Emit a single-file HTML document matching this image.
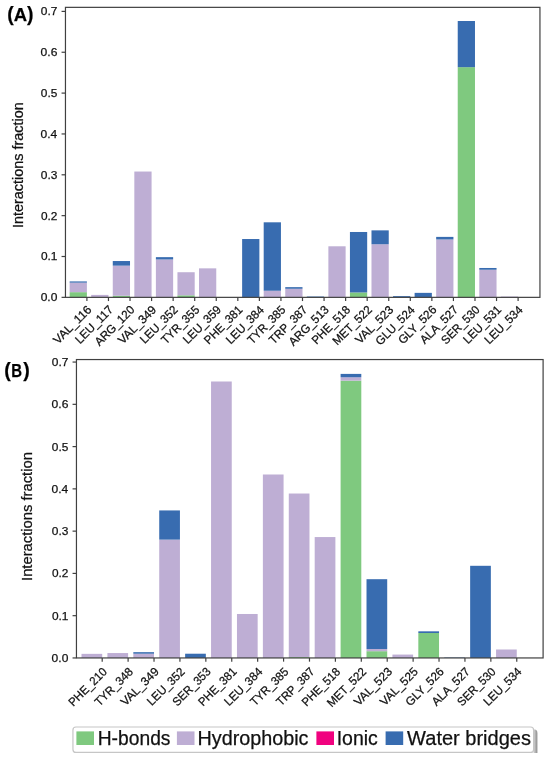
<!DOCTYPE html>
<html><head><meta charset="utf-8"><style>
html,body{margin:0;padding:0;background:#fff;}
svg{display:block;font-family:"Liberation Sans", sans-serif;}
#w{width:550px;height:760px;overflow:hidden;will-change:transform;}
text{stroke:#111111;stroke-width:0.25px;}
</style></head><body>
<div id="w"><svg width="550" height="760" viewBox="0 0 550 760">
<rect width="550" height="760" fill="#fff"/>
<rect x="69.65" y="292.16" width="17.25" height="5.19" fill="#7fc97f"/>
<rect x="69.65" y="282.64" width="17.25" height="9.52" fill="#beaed4"/>
<rect x="69.65" y="281.42" width="17.25" height="1.23" fill="#386cb0"/>
<rect x="91.21" y="294.90" width="17.25" height="2.45" fill="#beaed4"/>
<rect x="112.77" y="295.72" width="17.25" height="1.63" fill="#7fc97f"/>
<rect x="112.77" y="265.65" width="17.25" height="30.07" fill="#beaed4"/>
<rect x="112.77" y="261.03" width="17.25" height="4.62" fill="#386cb0"/>
<rect x="134.33" y="171.53" width="17.25" height="125.82" fill="#beaed4"/>
<rect x="155.89" y="259.44" width="17.25" height="37.91" fill="#beaed4"/>
<rect x="155.89" y="257.15" width="17.25" height="2.29" fill="#386cb0"/>
<rect x="177.45" y="295.31" width="17.25" height="2.04" fill="#7fc97f"/>
<rect x="177.45" y="272.23" width="17.25" height="23.08" fill="#beaed4"/>
<rect x="199.01" y="268.35" width="17.25" height="29.00" fill="#beaed4"/>
<rect x="242.13" y="239.02" width="17.25" height="58.33" fill="#386cb0"/>
<rect x="263.69" y="290.73" width="17.25" height="6.62" fill="#beaed4"/>
<rect x="263.69" y="222.31" width="17.25" height="68.42" fill="#386cb0"/>
<rect x="285.25" y="288.77" width="17.25" height="8.58" fill="#beaed4"/>
<rect x="285.25" y="287.14" width="17.25" height="1.63" fill="#386cb0"/>
<rect x="306.81" y="296.53" width="17.25" height="0.82" fill="#386cb0"/>
<rect x="328.37" y="246.29" width="17.25" height="51.06" fill="#beaed4"/>
<rect x="349.93" y="292.45" width="17.25" height="4.90" fill="#7fc97f"/>
<rect x="349.93" y="231.99" width="17.25" height="60.46" fill="#386cb0"/>
<rect x="371.49" y="244.25" width="17.25" height="53.11" fill="#beaed4"/>
<rect x="371.49" y="230.36" width="17.25" height="13.89" fill="#386cb0"/>
<rect x="393.05" y="296.12" width="17.25" height="1.23" fill="#386cb0"/>
<rect x="414.61" y="292.86" width="17.25" height="4.49" fill="#386cb0"/>
<rect x="436.17" y="239.47" width="17.25" height="57.88" fill="#beaed4"/>
<rect x="436.17" y="236.89" width="17.25" height="2.57" fill="#386cb0"/>
<rect x="457.73" y="67.16" width="17.25" height="230.19" fill="#7fc97f"/>
<rect x="457.73" y="21.00" width="17.25" height="46.16" fill="#386cb0"/>
<rect x="479.29" y="269.74" width="17.25" height="27.61" fill="#beaed4"/>
<rect x="479.29" y="267.98" width="17.25" height="1.76" fill="#386cb0"/>
<rect x="500.85" y="296.53" width="17.25" height="0.82" fill="#beaed4"/>
<rect x="65.46" y="7.35" width="474.49" height="290.00" fill="none" stroke="#404040" stroke-width="1.2"/>
<line x1="61.56" y1="297.35" x2="65.46" y2="297.35" stroke="#404040" stroke-width="1.2"/>
<text x="57.33" y="301.29" text-anchor="end" font-size="11.45" textLength="16.68" lengthAdjust="spacingAndGlyphs" fill="#111111">0.0</text>
<line x1="61.56" y1="256.50" x2="65.46" y2="256.50" stroke="#404040" stroke-width="1.2"/>
<text x="57.44" y="260.44" text-anchor="end" font-size="11.45" textLength="16.51" lengthAdjust="spacingAndGlyphs" fill="#111111">0.1</text>
<line x1="61.56" y1="215.65" x2="65.46" y2="215.65" stroke="#404040" stroke-width="1.2"/>
<text x="57.45" y="219.59" text-anchor="end" font-size="11.45" textLength="16.44" lengthAdjust="spacingAndGlyphs" fill="#111111">0.2</text>
<line x1="61.56" y1="174.80" x2="65.46" y2="174.80" stroke="#404040" stroke-width="1.2"/>
<text x="57.38" y="178.74" text-anchor="end" font-size="11.45" textLength="16.59" lengthAdjust="spacingAndGlyphs" fill="#111111">0.3</text>
<line x1="61.56" y1="133.95" x2="65.46" y2="133.95" stroke="#404040" stroke-width="1.2"/>
<text x="57.21" y="137.89" text-anchor="end" font-size="11.45" textLength="16.68" lengthAdjust="spacingAndGlyphs" fill="#111111">0.4</text>
<line x1="61.56" y1="93.10" x2="65.46" y2="93.10" stroke="#404040" stroke-width="1.2"/>
<text x="57.36" y="97.04" text-anchor="end" font-size="11.45" textLength="16.48" lengthAdjust="spacingAndGlyphs" fill="#111111">0.5</text>
<line x1="61.56" y1="52.25" x2="65.46" y2="52.25" stroke="#404040" stroke-width="1.2"/>
<text x="57.39" y="56.19" text-anchor="end" font-size="11.45" textLength="16.79" lengthAdjust="spacingAndGlyphs" fill="#111111">0.6</text>
<line x1="61.56" y1="11.40" x2="65.46" y2="11.40" stroke="#404040" stroke-width="1.2"/>
<text x="57.46" y="15.34" text-anchor="end" font-size="11.45" textLength="16.61" lengthAdjust="spacingAndGlyphs" fill="#111111">0.7</text>
<line x1="86.90" y1="297.35" x2="86.90" y2="301.05" stroke="#404040" stroke-width="1.2"/>
<text x="92.52" y="310.85" text-anchor="end" font-size="11.88" textLength="48.45" lengthAdjust="spacingAndGlyphs" fill="#111111" transform="rotate(-45 92.00 310.85)">VAL_116</text>
<line x1="108.46" y1="297.35" x2="108.46" y2="301.05" stroke="#404040" stroke-width="1.2"/>
<text x="114.14" y="310.85" text-anchor="end" font-size="11.88" textLength="48.09" lengthAdjust="spacingAndGlyphs" fill="#111111" transform="rotate(-45 113.56 310.85)">LEU_117</text>
<line x1="130.02" y1="297.35" x2="130.02" y2="301.05" stroke="#404040" stroke-width="1.2"/>
<text x="135.57" y="310.85" text-anchor="end" font-size="11.88" textLength="50.89" lengthAdjust="spacingAndGlyphs" fill="#111111" transform="rotate(-45 135.12 310.85)">ARG_120</text>
<line x1="151.58" y1="297.35" x2="151.58" y2="301.05" stroke="#404040" stroke-width="1.2"/>
<text x="157.24" y="310.85" text-anchor="end" font-size="11.88" textLength="48.41" lengthAdjust="spacingAndGlyphs" fill="#111111" transform="rotate(-45 156.68 310.85)">VAL_349</text>
<line x1="173.14" y1="297.35" x2="173.14" y2="301.05" stroke="#404040" stroke-width="1.2"/>
<text x="178.82" y="310.85" text-anchor="end" font-size="11.88" textLength="47.92" lengthAdjust="spacingAndGlyphs" fill="#111111" transform="rotate(-45 178.24 310.85)">LEU_352</text>
<line x1="194.70" y1="297.35" x2="194.70" y2="301.05" stroke="#404040" stroke-width="1.2"/>
<text x="200.28" y="310.85" text-anchor="end" font-size="11.88" textLength="48.37" lengthAdjust="spacingAndGlyphs" fill="#111111" transform="rotate(-45 199.80 310.85)">TYR_355</text>
<line x1="216.26" y1="297.35" x2="216.26" y2="301.05" stroke="#404040" stroke-width="1.2"/>
<text x="221.91" y="310.85" text-anchor="end" font-size="11.88" textLength="48.23" lengthAdjust="spacingAndGlyphs" fill="#111111" transform="rotate(-45 221.36 310.85)">LEU_359</text>
<line x1="237.82" y1="297.35" x2="237.82" y2="301.05" stroke="#404040" stroke-width="1.2"/>
<text x="243.48" y="310.85" text-anchor="end" font-size="11.88" textLength="48.72" lengthAdjust="spacingAndGlyphs" fill="#111111" transform="rotate(-45 242.92 310.85)">PHE_381</text>
<line x1="259.38" y1="297.35" x2="259.38" y2="301.05" stroke="#404040" stroke-width="1.2"/>
<text x="264.82" y="310.85" text-anchor="end" font-size="11.88" textLength="48.18" lengthAdjust="spacingAndGlyphs" fill="#111111" transform="rotate(-45 264.48 310.85)">LEU_384</text>
<line x1="280.94" y1="297.35" x2="280.94" y2="301.05" stroke="#404040" stroke-width="1.2"/>
<text x="286.52" y="310.85" text-anchor="end" font-size="11.88" textLength="48.37" lengthAdjust="spacingAndGlyphs" fill="#111111" transform="rotate(-45 286.04 310.85)">TYR_385</text>
<line x1="302.50" y1="297.35" x2="302.50" y2="301.05" stroke="#404040" stroke-width="1.2"/>
<text x="308.18" y="310.85" text-anchor="end" font-size="11.88" textLength="48.40" lengthAdjust="spacingAndGlyphs" fill="#111111" transform="rotate(-45 307.60 310.85)">TRP_387</text>
<line x1="324.06" y1="297.35" x2="324.06" y2="301.05" stroke="#404040" stroke-width="1.2"/>
<text x="329.67" y="310.85" text-anchor="end" font-size="11.88" textLength="50.79" lengthAdjust="spacingAndGlyphs" fill="#111111" transform="rotate(-45 329.16 310.85)">ARG_513</text>
<line x1="345.62" y1="297.35" x2="345.62" y2="301.05" stroke="#404040" stroke-width="1.2"/>
<text x="351.22" y="310.85" text-anchor="end" font-size="11.88" textLength="48.93" lengthAdjust="spacingAndGlyphs" fill="#111111" transform="rotate(-45 350.72 310.85)">PHE_518</text>
<line x1="367.18" y1="297.35" x2="367.18" y2="301.05" stroke="#404040" stroke-width="1.2"/>
<text x="372.86" y="310.85" text-anchor="end" font-size="11.88" textLength="50.00" lengthAdjust="spacingAndGlyphs" fill="#111111" transform="rotate(-45 372.28 310.85)">MET_522</text>
<line x1="388.74" y1="297.35" x2="388.74" y2="301.05" stroke="#404040" stroke-width="1.2"/>
<text x="394.36" y="310.85" text-anchor="end" font-size="11.88" textLength="48.26" lengthAdjust="spacingAndGlyphs" fill="#111111" transform="rotate(-45 393.84 310.85)">VAL_523</text>
<line x1="410.30" y1="297.35" x2="410.30" y2="301.05" stroke="#404040" stroke-width="1.2"/>
<text x="415.74" y="310.85" text-anchor="end" font-size="11.88" textLength="49.90" lengthAdjust="spacingAndGlyphs" fill="#111111" transform="rotate(-45 415.40 310.85)">GLU_524</text>
<line x1="431.86" y1="297.35" x2="431.86" y2="301.05" stroke="#404040" stroke-width="1.2"/>
<text x="437.47" y="310.85" text-anchor="end" font-size="11.88" textLength="48.62" lengthAdjust="spacingAndGlyphs" fill="#111111" transform="rotate(-45 436.96 310.85)">GLY_526</text>
<line x1="453.42" y1="297.35" x2="453.42" y2="301.05" stroke="#404040" stroke-width="1.2"/>
<text x="459.11" y="310.85" text-anchor="end" font-size="11.88" textLength="48.24" lengthAdjust="spacingAndGlyphs" fill="#111111" transform="rotate(-45 458.52 310.85)">ALA_527</text>
<line x1="474.98" y1="297.35" x2="474.98" y2="301.05" stroke="#404040" stroke-width="1.2"/>
<text x="480.52" y="310.85" text-anchor="end" font-size="11.88" textLength="48.56" lengthAdjust="spacingAndGlyphs" fill="#111111" transform="rotate(-45 480.08 310.85)">SER_530</text>
<line x1="496.54" y1="297.35" x2="496.54" y2="301.05" stroke="#404040" stroke-width="1.2"/>
<text x="502.20" y="310.85" text-anchor="end" font-size="11.88" textLength="48.00" lengthAdjust="spacingAndGlyphs" fill="#111111" transform="rotate(-45 501.64 310.85)">LEU_531</text>
<line x1="518.10" y1="297.35" x2="518.10" y2="301.05" stroke="#404040" stroke-width="1.2"/>
<text x="523.54" y="310.85" text-anchor="end" font-size="11.88" textLength="48.18" lengthAdjust="spacingAndGlyphs" fill="#111111" transform="rotate(-45 523.20 310.85)">LEU_534</text>
<text x="22.60" y="164.95" text-anchor="middle" font-size="14.20" textLength="125.77" lengthAdjust="spacingAndGlyphs" fill="#111111" transform="rotate(-90 22.80 164.95)">Interactions fraction</text>
<rect x="81.50" y="653.85" width="20.70" height="4.10" fill="#beaed4"/>
<rect x="107.41" y="653.05" width="20.70" height="4.90" fill="#beaed4"/>
<rect x="133.32" y="653.72" width="20.70" height="4.23" fill="#beaed4"/>
<rect x="133.32" y="652.16" width="20.70" height="1.56" fill="#386cb0"/>
<rect x="159.23" y="539.59" width="20.70" height="118.36" fill="#beaed4"/>
<rect x="159.23" y="510.43" width="20.70" height="29.17" fill="#386cb0"/>
<rect x="185.14" y="653.72" width="20.70" height="4.23" fill="#386cb0"/>
<rect x="211.05" y="381.50" width="20.70" height="276.45" fill="#beaed4"/>
<rect x="236.96" y="613.99" width="20.70" height="43.96" fill="#beaed4"/>
<rect x="262.87" y="474.50" width="20.70" height="183.45" fill="#beaed4"/>
<rect x="288.78" y="657.10" width="20.70" height="0.85" fill="#7fc97f"/>
<rect x="288.78" y="493.52" width="20.70" height="163.58" fill="#beaed4"/>
<rect x="314.69" y="537.06" width="20.70" height="120.89" fill="#beaed4"/>
<rect x="340.60" y="380.66" width="20.70" height="277.29" fill="#7fc97f"/>
<rect x="340.60" y="377.28" width="20.70" height="3.38" fill="#beaed4"/>
<rect x="340.60" y="373.90" width="20.70" height="3.38" fill="#386cb0"/>
<rect x="366.51" y="651.19" width="20.70" height="6.76" fill="#7fc97f"/>
<rect x="366.51" y="648.99" width="20.70" height="2.20" fill="#beaed4"/>
<rect x="366.51" y="579.20" width="20.70" height="69.79" fill="#386cb0"/>
<rect x="392.42" y="654.57" width="20.70" height="3.38" fill="#beaed4"/>
<rect x="418.33" y="633.01" width="20.70" height="24.94" fill="#7fc97f"/>
<rect x="418.33" y="631.32" width="20.70" height="1.69" fill="#386cb0"/>
<rect x="444.24" y="657.53" width="20.70" height="0.42" fill="#386cb0"/>
<rect x="470.15" y="565.80" width="20.70" height="92.15" fill="#386cb0"/>
<rect x="496.06" y="649.50" width="20.70" height="8.45" fill="#beaed4"/>
<rect x="76.45" y="359.55" width="466.65" height="298.40" fill="none" stroke="#404040" stroke-width="1.2"/>
<line x1="72.55" y1="657.95" x2="76.45" y2="657.95" stroke="#404040" stroke-width="1.2"/>
<text x="68.32" y="661.89" text-anchor="end" font-size="11.45" textLength="16.68" lengthAdjust="spacingAndGlyphs" fill="#111111">0.0</text>
<line x1="72.55" y1="615.68" x2="76.45" y2="615.68" stroke="#404040" stroke-width="1.2"/>
<text x="68.43" y="619.62" text-anchor="end" font-size="11.45" textLength="16.51" lengthAdjust="spacingAndGlyphs" fill="#111111">0.1</text>
<line x1="72.55" y1="573.41" x2="76.45" y2="573.41" stroke="#404040" stroke-width="1.2"/>
<text x="68.44" y="577.35" text-anchor="end" font-size="11.45" textLength="16.44" lengthAdjust="spacingAndGlyphs" fill="#111111">0.2</text>
<line x1="72.55" y1="531.14" x2="76.45" y2="531.14" stroke="#404040" stroke-width="1.2"/>
<text x="68.37" y="535.08" text-anchor="end" font-size="11.45" textLength="16.59" lengthAdjust="spacingAndGlyphs" fill="#111111">0.3</text>
<line x1="72.55" y1="488.87" x2="76.45" y2="488.87" stroke="#404040" stroke-width="1.2"/>
<text x="68.20" y="492.81" text-anchor="end" font-size="11.45" textLength="16.68" lengthAdjust="spacingAndGlyphs" fill="#111111">0.4</text>
<line x1="72.55" y1="446.60" x2="76.45" y2="446.60" stroke="#404040" stroke-width="1.2"/>
<text x="68.35" y="450.54" text-anchor="end" font-size="11.45" textLength="16.48" lengthAdjust="spacingAndGlyphs" fill="#111111">0.5</text>
<line x1="72.55" y1="404.33" x2="76.45" y2="404.33" stroke="#404040" stroke-width="1.2"/>
<text x="68.38" y="408.27" text-anchor="end" font-size="11.45" textLength="16.79" lengthAdjust="spacingAndGlyphs" fill="#111111">0.6</text>
<line x1="72.55" y1="362.06" x2="76.45" y2="362.06" stroke="#404040" stroke-width="1.2"/>
<text x="68.45" y="366.00" text-anchor="end" font-size="11.45" textLength="16.61" lengthAdjust="spacingAndGlyphs" fill="#111111">0.7</text>
<line x1="102.20" y1="657.95" x2="102.20" y2="661.65" stroke="#404040" stroke-width="1.2"/>
<text x="107.95" y="672.75" text-anchor="end" font-size="11.88" textLength="48.91" lengthAdjust="spacingAndGlyphs" fill="#111111" transform="rotate(-45 107.50 672.75)">PHE_210</text>
<line x1="128.11" y1="657.95" x2="128.11" y2="661.65" stroke="#404040" stroke-width="1.2"/>
<text x="133.91" y="672.75" text-anchor="end" font-size="11.88" textLength="48.60" lengthAdjust="spacingAndGlyphs" fill="#111111" transform="rotate(-45 133.41 672.75)">TYR_348</text>
<line x1="154.02" y1="657.95" x2="154.02" y2="661.65" stroke="#404040" stroke-width="1.2"/>
<text x="159.88" y="672.75" text-anchor="end" font-size="11.88" textLength="48.41" lengthAdjust="spacingAndGlyphs" fill="#111111" transform="rotate(-45 159.32 672.75)">VAL_349</text>
<line x1="179.93" y1="657.95" x2="179.93" y2="661.65" stroke="#404040" stroke-width="1.2"/>
<text x="185.81" y="672.75" text-anchor="end" font-size="11.88" textLength="47.92" lengthAdjust="spacingAndGlyphs" fill="#111111" transform="rotate(-45 185.23 672.75)">LEU_352</text>
<line x1="205.84" y1="657.95" x2="205.84" y2="661.65" stroke="#404040" stroke-width="1.2"/>
<text x="211.64" y="672.75" text-anchor="end" font-size="11.88" textLength="48.46" lengthAdjust="spacingAndGlyphs" fill="#111111" transform="rotate(-45 211.14 672.75)">SER_353</text>
<line x1="231.75" y1="657.95" x2="231.75" y2="661.65" stroke="#404040" stroke-width="1.2"/>
<text x="237.61" y="672.75" text-anchor="end" font-size="11.88" textLength="48.72" lengthAdjust="spacingAndGlyphs" fill="#111111" transform="rotate(-45 237.05 672.75)">PHE_381</text>
<line x1="257.66" y1="657.95" x2="257.66" y2="661.65" stroke="#404040" stroke-width="1.2"/>
<text x="263.30" y="672.75" text-anchor="end" font-size="11.88" textLength="48.18" lengthAdjust="spacingAndGlyphs" fill="#111111" transform="rotate(-45 262.96 672.75)">LEU_384</text>
<line x1="283.57" y1="657.95" x2="283.57" y2="661.65" stroke="#404040" stroke-width="1.2"/>
<text x="289.35" y="672.75" text-anchor="end" font-size="11.88" textLength="48.37" lengthAdjust="spacingAndGlyphs" fill="#111111" transform="rotate(-45 288.87 672.75)">TYR_385</text>
<line x1="309.48" y1="657.95" x2="309.48" y2="661.65" stroke="#404040" stroke-width="1.2"/>
<text x="315.36" y="672.75" text-anchor="end" font-size="11.88" textLength="48.40" lengthAdjust="spacingAndGlyphs" fill="#111111" transform="rotate(-45 314.78 672.75)">TRP_387</text>
<line x1="335.39" y1="657.95" x2="335.39" y2="661.65" stroke="#404040" stroke-width="1.2"/>
<text x="341.19" y="672.75" text-anchor="end" font-size="11.88" textLength="48.93" lengthAdjust="spacingAndGlyphs" fill="#111111" transform="rotate(-45 340.69 672.75)">PHE_518</text>
<line x1="361.30" y1="657.95" x2="361.30" y2="661.65" stroke="#404040" stroke-width="1.2"/>
<text x="367.18" y="672.75" text-anchor="end" font-size="11.88" textLength="50.00" lengthAdjust="spacingAndGlyphs" fill="#111111" transform="rotate(-45 366.60 672.75)">MET_522</text>
<line x1="387.21" y1="657.95" x2="387.21" y2="661.65" stroke="#404040" stroke-width="1.2"/>
<text x="393.03" y="672.75" text-anchor="end" font-size="11.88" textLength="48.26" lengthAdjust="spacingAndGlyphs" fill="#111111" transform="rotate(-45 392.51 672.75)">VAL_523</text>
<line x1="413.12" y1="657.95" x2="413.12" y2="661.65" stroke="#404040" stroke-width="1.2"/>
<text x="418.91" y="672.75" text-anchor="end" font-size="11.88" textLength="48.15" lengthAdjust="spacingAndGlyphs" fill="#111111" transform="rotate(-45 418.42 672.75)">VAL_525</text>
<line x1="439.03" y1="657.95" x2="439.03" y2="661.65" stroke="#404040" stroke-width="1.2"/>
<text x="444.84" y="672.75" text-anchor="end" font-size="11.88" textLength="48.62" lengthAdjust="spacingAndGlyphs" fill="#111111" transform="rotate(-45 444.33 672.75)">GLY_526</text>
<line x1="464.94" y1="657.95" x2="464.94" y2="661.65" stroke="#404040" stroke-width="1.2"/>
<text x="470.83" y="672.75" text-anchor="end" font-size="11.88" textLength="48.24" lengthAdjust="spacingAndGlyphs" fill="#111111" transform="rotate(-45 470.24 672.75)">ALA_527</text>
<line x1="490.85" y1="657.95" x2="490.85" y2="661.65" stroke="#404040" stroke-width="1.2"/>
<text x="496.59" y="672.75" text-anchor="end" font-size="11.88" textLength="48.56" lengthAdjust="spacingAndGlyphs" fill="#111111" transform="rotate(-45 496.15 672.75)">SER_530</text>
<line x1="516.76" y1="657.95" x2="516.76" y2="661.65" stroke="#404040" stroke-width="1.2"/>
<text x="522.40" y="672.75" text-anchor="end" font-size="11.88" textLength="48.18" lengthAdjust="spacingAndGlyphs" fill="#111111" transform="rotate(-45 522.06 672.75)">LEU_534</text>
<text x="31.80" y="516.35" text-anchor="middle" font-size="14.00" textLength="128.82" lengthAdjust="spacingAndGlyphs" fill="#111111" transform="rotate(-90 32.00 516.35)">Interactions fraction</text>
<text x="7.2" y="21.3" font-size="18.5" font-weight="bold" fill="#000"><tspan font-size="19.4" dy="-0.6">(</tspan><tspan dy="0.6">A</tspan><tspan font-size="19.4" dy="-0.6">)</tspan></text>
<text x="4.2" y="377.0" font-size="18.5" font-weight="bold" fill="#000"><tspan font-size="19.6" dy="-0.4">(</tspan><tspan dy="0.4" dx="0.6" textLength="10.8" lengthAdjust="spacingAndGlyphs">B</tspan><tspan font-size="19.6" dy="-0.4" dx="1.2">)</tspan></text>
<defs><linearGradient id="sh" x1="0" x2="1" y1="0" y2="0"><stop offset="0" stop-color="#d8d8d8"/><stop offset="1" stop-color="#8c8c8c"/></linearGradient></defs>
<path d="M533.4 729.6 L534.6 729.6 Q537.4 729.8 537.4 733 L537.4 753.1 L533.4 753.1 Z" fill="url(#sh)"/>
<rect x="72.95" y="727.0" width="460.65" height="25.4" rx="3" ry="3" fill="#fff" stroke="#c6c6c6" stroke-width="1.2"/>
<rect x="76.4" y="731.4" width="17.6" height="13.6" fill="#7fc97f"/>
<text x="97.72" y="745.00" text-anchor="start" font-size="19.49" textLength="72.74" lengthAdjust="spacingAndGlyphs" fill="#111111">H-bonds</text>
<rect x="176.9" y="731.4" width="17.6" height="13.6" fill="#beaed4"/>
<text x="197.48" y="745.00" text-anchor="start" font-size="19.49" textLength="111.04" lengthAdjust="spacingAndGlyphs" fill="#111111">Hydrophobic</text>
<rect x="316.4" y="731.4" width="17.6" height="13.6" fill="#f0027f"/>
<text x="336.70" y="745.00" text-anchor="start" font-size="19.49" textLength="41.19" lengthAdjust="spacingAndGlyphs" fill="#111111">Ionic</text>
<rect x="385.6" y="731.4" width="17.6" height="13.6" fill="#386cb0"/>
<text x="407.11" y="745.00" text-anchor="start" font-size="19.49" textLength="123.81" lengthAdjust="spacingAndGlyphs" fill="#111111">Water bridges</text>
</svg></div>
</body></html>
